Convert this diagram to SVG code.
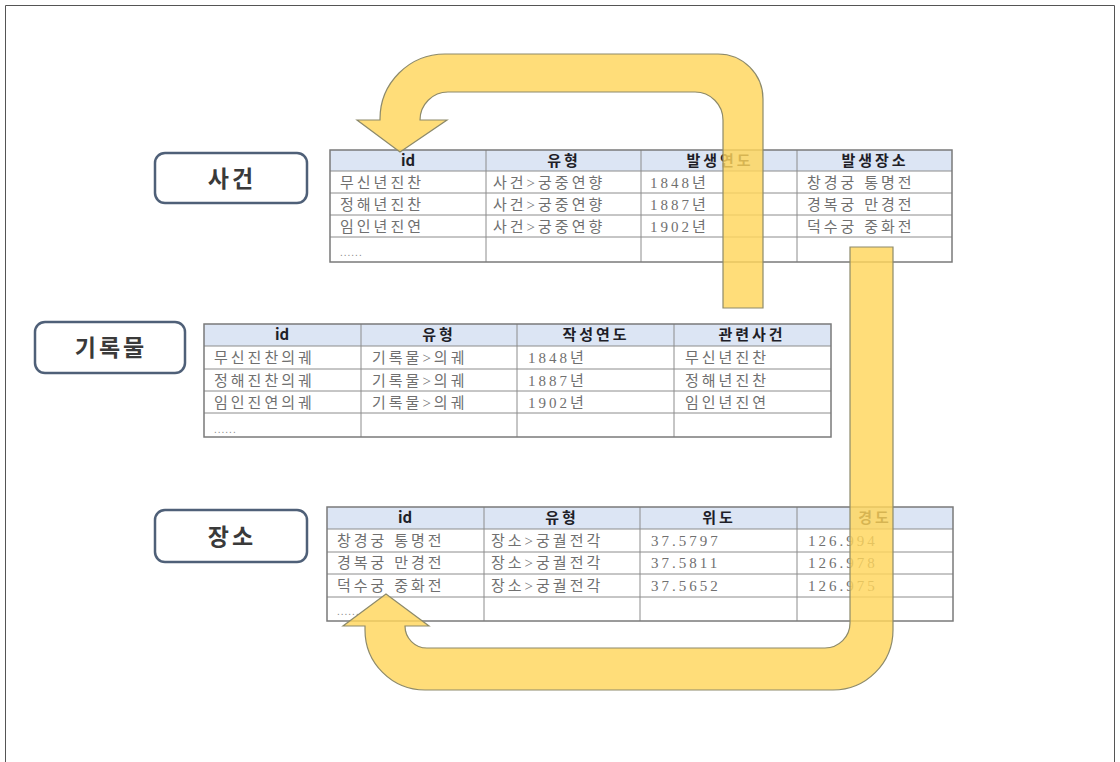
<svg xmlns="http://www.w3.org/2000/svg" width="1120" height="762" viewBox="0 0 1120 762">
<style>
.frame{fill:none;stroke:#555;stroke-width:1}
.hdr{fill:#dce5f4}
.grid{stroke:#8c8c8c;stroke-width:1;fill:none}
.outer{stroke:#7a7a7a;stroke-width:1.5;fill:none}
.ht{font-family:"Noto Sans CJK KR","Liberation Sans",sans-serif;font-weight:bold;font-size:15px;fill:#1e1e28;text-anchor:middle;letter-spacing:3px}
.id{letter-spacing:0}
.bt{font-family:"Liberation Serif","Noto Sans CJK KR",serif;font-size:15px;fill:#707070;letter-spacing:3px}
.dots{font-family:"Liberation Sans",sans-serif;font-size:10px;fill:#888;letter-spacing:1px}
.lbox{fill:#fff;stroke:#4f6078;stroke-width:2.5}
.lt{font-family:"Noto Sans CJK KR","Liberation Sans",sans-serif;font-weight:bold;font-size:23px;fill:#3a3a3a;text-anchor:middle;letter-spacing:3px}
.arrow{fill:#ffd65c;fill-opacity:0.82;stroke:#8d8a6a;stroke-width:1.2}
</style>
<rect width="1120" height="762" fill="#fff"/>
<path class="frame" d="M5.5 770 V5.5 H1114.5 V770"/>

<g id="label-sagun">
<rect class="lbox" x="155" y="153" width="152" height="50" rx="10"/>
<text class="lt" x="232" y="187">사건</text>
</g>
<g id="label-girokmul">
<rect class="lbox" x="35" y="322" width="150" height="51" rx="10"/>
<text class="lt" x="111" y="356">기록물</text>
</g>
<g id="label-jangso">
<rect class="lbox" x="155" y="510" width="152" height="52" rx="10"/>
<text class="lt" x="232" y="545">장소</text>
</g>

<g id="table-sagun">
<rect class="hdr" x="330" y="150" width="622" height="21"/>
<path class="grid" d="M330 171H952M330 193H952M330 215H952M330 237H952M486 150V262M641 150V262M797 150V262"/>
<rect class="outer" x="330" y="150" width="622" height="112"/>
<text class="ht id" x="408" y="166">id</text>
<text class="ht" x="564" y="166">유형</text>
<text class="ht" x="720" y="166">발생연도</text>
<text class="ht" x="875" y="166">발생장소</text>
<text class="bt" x="340" y="188">무신년진찬</text>
<text class="bt" x="493" y="188">사건&gt;궁중연향</text>
<text class="bt" x="650" y="188">1848년</text>
<text class="bt" x="807" y="188">창경궁 통명전</text>
<text class="bt" x="340" y="210">정해년진찬</text>
<text class="bt" x="493" y="210">사건&gt;궁중연향</text>
<text class="bt" x="650" y="210">1887년</text>
<text class="bt" x="807" y="210">경복궁 만경전</text>
<text class="bt" x="340" y="232">임인년진연</text>
<text class="bt" x="493" y="232">사건&gt;궁중연향</text>
<text class="bt" x="650" y="232">1902년</text>
<text class="bt" x="807" y="232">덕수궁 중화전</text>
<text class="dots" x="340" y="256">......</text>
</g>

<g id="table-girokmul">
<rect class="hdr" x="204" y="324" width="627" height="22"/>
<path class="grid" d="M204 346H831M204 369H831M204 391H831M204 413H831M361 324V437M517 324V437M674 324V437"/>
<rect class="outer" x="204" y="324" width="627" height="113"/>
<text class="ht id" x="282" y="340">id</text>
<text class="ht" x="439" y="340">유형</text>
<text class="ht" x="596" y="340">작성연도</text>
<text class="ht" x="752" y="340">관련사건</text>
<text class="bt" x="214" y="363">무신진찬의궤</text>
<text class="bt" x="372" y="363">기록물&gt;의궤</text>
<text class="bt" x="528" y="363">1848년</text>
<text class="bt" x="685" y="363">무신년진찬</text>
<text class="bt" x="214" y="386">정해진찬의궤</text>
<text class="bt" x="372" y="386">기록물&gt;의궤</text>
<text class="bt" x="528" y="386">1887년</text>
<text class="bt" x="685" y="386">정해년진찬</text>
<text class="bt" x="214" y="408">임인진연의궤</text>
<text class="bt" x="372" y="408">기록물&gt;의궤</text>
<text class="bt" x="528" y="408">1902년</text>
<text class="bt" x="685" y="408">임인년진연</text>
<text class="dots" x="214" y="433">......</text>
</g>

<g id="table-jangso">
<rect class="hdr" x="327" y="507" width="626" height="22"/>
<path class="grid" d="M327 529H953M327 552H953M327 574H953M327 597H953M484 507V621M640 507V621M797 507V621"/>
<rect class="outer" x="327" y="507" width="626" height="114"/>
<text class="ht id" x="405" y="523">id</text>
<text class="ht" x="562" y="523">유형</text>
<text class="ht" x="719" y="523">위도</text>
<text class="ht" x="875" y="523">경도</text>
<text class="bt" x="337" y="546">창경궁 통명전</text>
<text class="bt" x="491" y="546">장소&gt;궁궐전각</text>
<text class="bt" x="651" y="546">37.5797</text>
<text class="bt" x="808" y="546">126.994</text>
<text class="bt" x="337" y="568">경복궁 만경전</text>
<text class="bt" x="491" y="568">장소&gt;궁궐전각</text>
<text class="bt" x="651" y="568">37.5811</text>
<text class="bt" x="808" y="568">126.978</text>
<text class="bt" x="337" y="591">덕수궁 중화전</text>
<text class="bt" x="491" y="591">장소&gt;궁궐전각</text>
<text class="bt" x="651" y="591">37.5652</text>
<text class="bt" x="808" y="591">126.975</text>
<text class="dots" x="337" y="615">......</text>
</g>

<g id="connectors">
<path class="arrow" d="M723 308 L723 120 A28 28 0 0 0 695 92 L448 92 A28 28 0 0 0 420 120 L447 120 L400 152 L357 120 L380 120 L380 119 A65 65 0 0 1 445 54 L718 54 A45 45 0 0 1 763 99 L763 308 Z"/>
<path class="arrow" d="M850 247 L893 247 L893 630 A60 60 0 0 1 833 690 L425 690 A60 60 0 0 1 365 630 L365 626 L343 626 L386 594 L429 626 L405 626 A22 22 0 0 0 427 648 L825 648 A25 25 0 0 0 850 623 Z"/>
</g>
</svg>
